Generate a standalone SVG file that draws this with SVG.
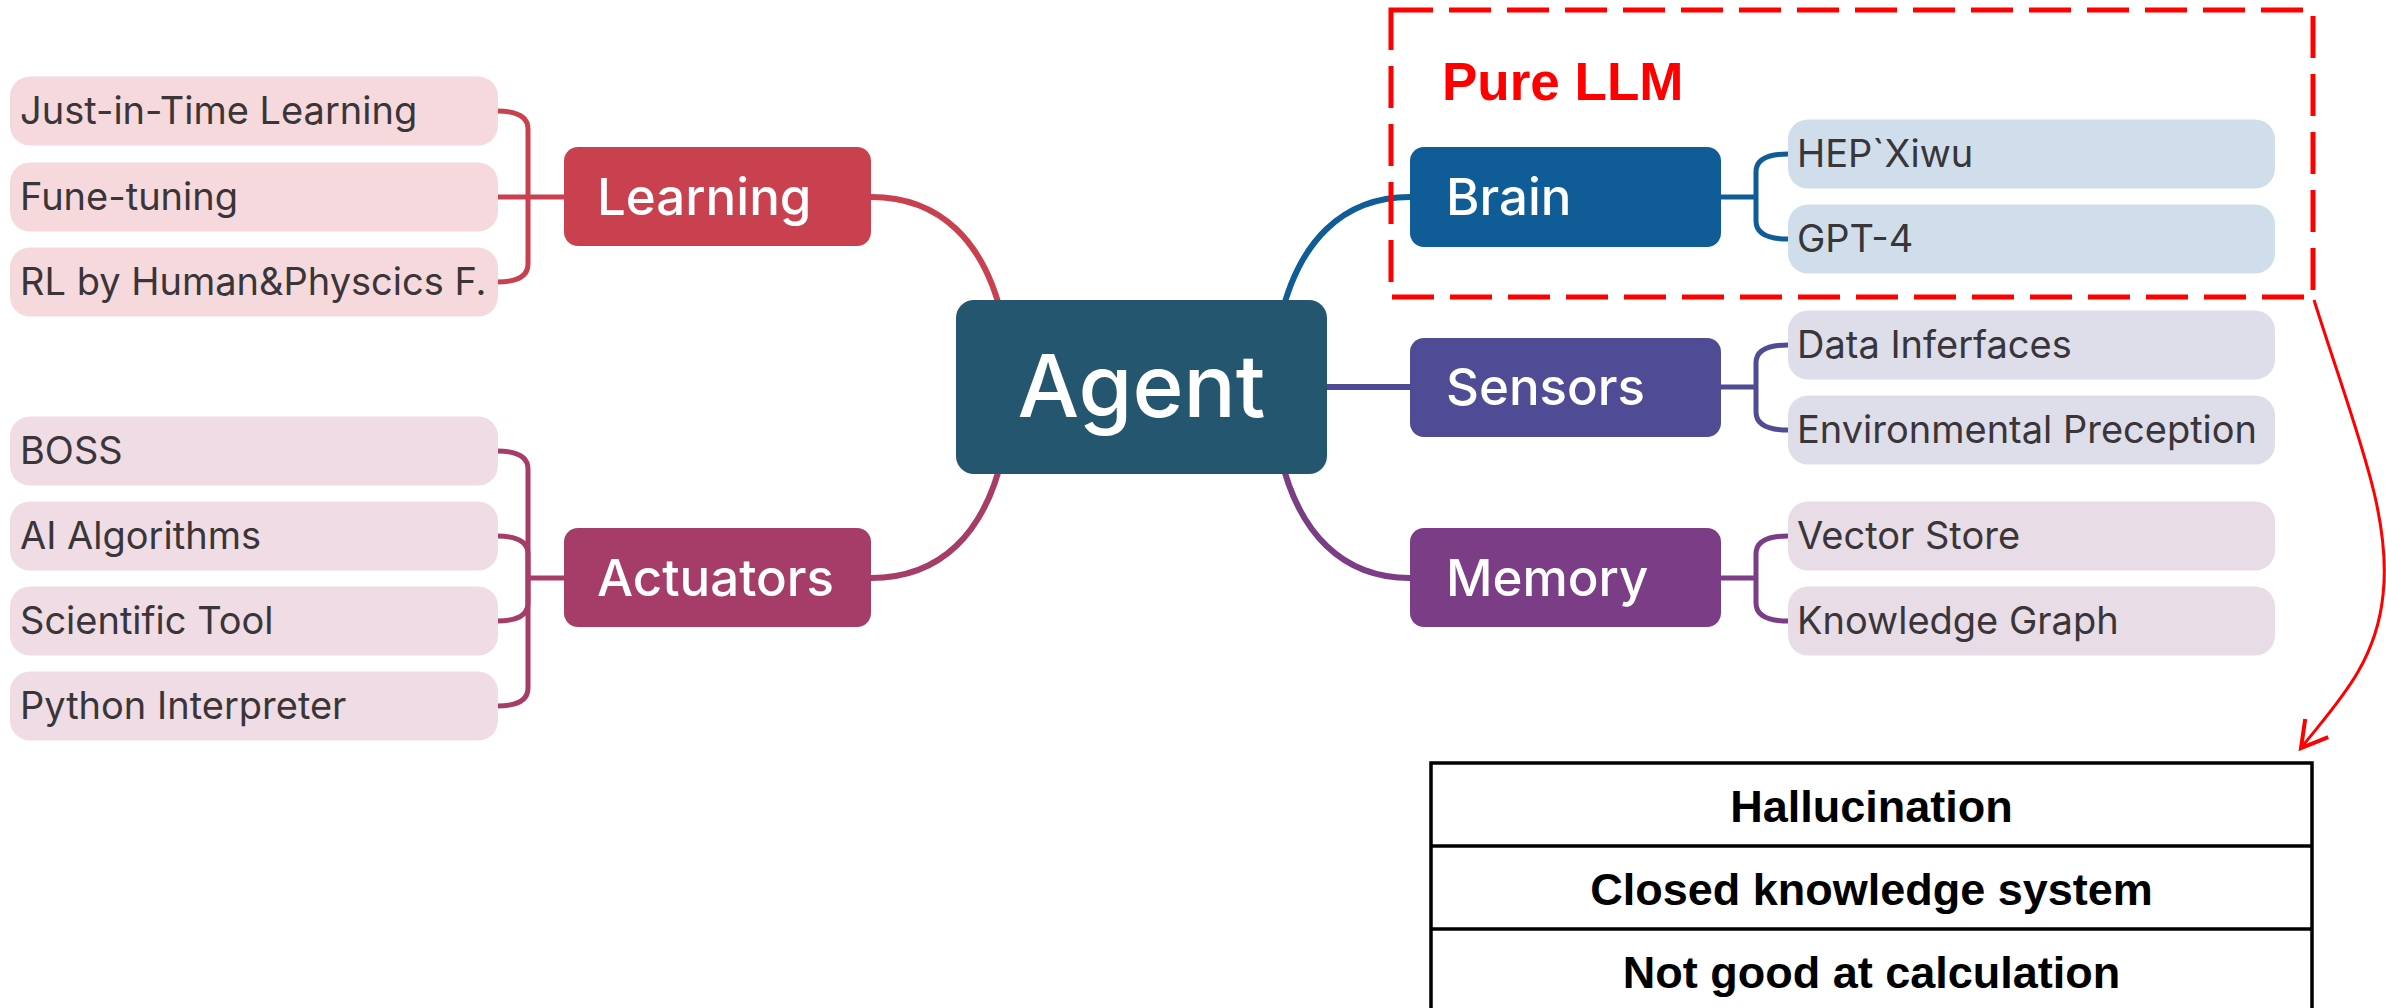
<svg xmlns="http://www.w3.org/2000/svg" width="2386" height="1008" viewBox="0 0 2386 1008">
<style>
.lt{font-family:Inter,"Noto Sans",sans-serif;font-size:38px;fill:#3a3538}
.bt{font-family:Inter,"Noto Sans",sans-serif;font-size:51px;font-weight:500;fill:#ffffff}
.conn{fill:none;stroke-width:6;stroke-linecap:round}
.brk{fill:none;stroke-width:5}
.lf-learn{fill:#F6D9DD}
.lf-act{fill:#EFDCE4}
.lf-brain{fill:#CFDEEA}
.lf-sens{fill:#DEDDEA}
.lf-mem{fill:#E8DCE7}
.tt{font-family:"Liberation Sans",Arial,sans-serif;font-weight:bold;font-size:45px;fill:#000;text-anchor:middle}
</style>
<defs>
<marker id="openArrow" markerUnits="userSpaceOnUse" markerWidth="40" markerHeight="40" refX="0" refY="0" viewBox="-25 -15 30 30" orient="auto" overflow="visible">
<path d="M-19,-11 L0,0 L-19,11" fill="none" stroke="#FF0000" stroke-width="3" stroke-linejoin="miter"/>
</marker>
</defs>
<rect width="2386" height="1008" fill="#ffffff"/>

<g id="connectors">
<path class="conn" stroke="#C9404F" d="M871,197 C940,197 985,241 1003,321"/>
<path class="conn" stroke="#A63D68" d="M871,578 C940,578 985,534 1003,454"/>
<path class="conn" stroke="#0F5C97" d="M1410,197 C1343,197 1298,241 1280,321"/>
<path class="conn" stroke="#4F4B94" d="M1320,387 L1410,387"/>
<path class="conn" stroke="#7B3D85" d="M1410,578 C1343,578 1298,534 1280,454"/>
<g stroke="#C9404F">
<path class="brk" d="M497,111 Q528,111 528,129 L528,197"/>
<path class="brk" d="M497,282 Q528,282 528,264 L528,197"/>
<path class="brk" d="M497,197 L564,197"/>
</g>
<g stroke="#A63D68">
<path class="brk" d="M497,451 Q528,451 528,469 L528,578"/>
<path class="brk" d="M497,536 Q528,536 528,554 L528,578"/>
<path class="brk" d="M497,621 Q528,621 528,603 L528,578"/>
<path class="brk" d="M497,706 Q528,706 528,688 L528,578"/>
<path class="brk" d="M528,578 L564,578"/>
</g>
<g stroke="#0F5C97">
<path class="brk" d="M1788,154 Q1756,154 1756,172 L1756,197"/>
<path class="brk" d="M1788,239 Q1756,239 1756,221 L1756,197"/>
<path class="brk" d="M1721,197 L1756,197"/>
</g>
<g stroke="#4F4B94">
<path class="brk" d="M1788,345 Q1756,345 1756,363 L1756,387"/>
<path class="brk" d="M1788,430 Q1756,430 1756,412 L1756,387"/>
<path class="brk" d="M1721,387 L1756,387"/>
</g>
<g stroke="#7B3D85">
<path class="brk" d="M1788,536 Q1756,536 1756,554 L1756,578"/>
<path class="brk" d="M1788,621 Q1756,621 1756,603 L1756,578"/>
<path class="brk" d="M1721,578 L1756,578"/>
</g>
<path d="M2314,300 C2355,430 2392,515 2383,595 C2376,665 2335,705 2301,748" fill="none" stroke="#FF0000" stroke-width="3" marker-end="url(#openArrow)"/>
</g>

<g id="agent">
<rect x="956" y="300" width="371" height="174" rx="18" fill="#24566F"/>
<text x="1141.5" y="417" font-family="Inter,'Noto Sans',sans-serif" font-size="87" font-weight="500" fill="#ffffff" text-anchor="middle">Agent</text>
</g>

<g id="learning">
<rect x="564" y="147" width="307" height="99" rx="14" fill="#C9404F"/>
<text class="bt" x="597" y="215">Learning</text>
</g>
<g id="actuators">
<rect x="564" y="528" width="307" height="99" rx="14" fill="#A63D68"/>
<text class="bt" x="597" y="596">Actuators</text>
</g>
<g id="brain">
<rect x="1410" y="147" width="311" height="100" rx="14" fill="#0F5C97"/>
<text class="bt" x="1446" y="215">Brain</text>
</g>
<g id="sensors">
<rect x="1410" y="338" width="311" height="99" rx="14" fill="#4F4B94"/>
<text class="bt" x="1446" y="405">Sensors</text>
</g>
<g id="memory">
<rect x="1410" y="528" width="311" height="99" rx="14" fill="#7B3D85"/>
<text class="bt" x="1446" y="596">Memory</text>
</g>

<g id="leaf-jit"><rect class="lf-learn" x="10" y="76.5" width="488" height="69" rx="20"/><text class="lt" x="20" y="124">Just-in-Time Learning</text></g>
<g id="leaf-fune"><rect class="lf-learn" x="10" y="162.5" width="488" height="69" rx="20"/><text class="lt" x="20" y="210">Fune-tuning</text></g>
<g id="leaf-rl"><rect class="lf-learn" x="10" y="247.5" width="488" height="69" rx="20"/><text class="lt" x="20" y="295">RL by Human&amp;Physcics F.</text></g>

<g id="leaf-boss"><rect class="lf-act" x="10" y="416.5" width="488" height="69" rx="20"/><text class="lt" x="20" y="464">BOSS</text></g>
<g id="leaf-ai"><rect class="lf-act" x="10" y="501.5" width="488" height="69" rx="20"/><text class="lt" x="20" y="549">AI Algorithms</text></g>
<g id="leaf-sci"><rect class="lf-act" x="10" y="586.5" width="488" height="69" rx="20"/><text class="lt" x="20" y="634">Scientific Tool</text></g>
<g id="leaf-py"><rect class="lf-act" x="10" y="671.5" width="488" height="69" rx="20"/><text class="lt" x="20" y="719">Python Interpreter</text></g>

<g id="leaf-xiwu"><rect class="lf-brain" x="1788" y="119.5" width="487" height="69" rx="20"/><text class="lt" x="1797" y="167">HEP`Xiwu</text></g>
<g id="leaf-gpt4"><rect class="lf-brain" x="1788" y="204.5" width="487" height="69" rx="20"/><text class="lt" x="1797" y="252">GPT-4</text></g>

<g id="leaf-data"><rect class="lf-sens" x="1788" y="310.5" width="487" height="69" rx="20"/><text class="lt" x="1797" y="358">Data Inferfaces</text></g>
<g id="leaf-env"><rect class="lf-sens" x="1788" y="395.5" width="487" height="69" rx="20"/><text class="lt" x="1797" y="443">Environmental Preception</text></g>

<g id="leaf-vec"><rect class="lf-mem" x="1788" y="501.5" width="487" height="69" rx="20"/><text class="lt" x="1797" y="549">Vector Store</text></g>
<g id="leaf-kg"><rect class="lf-mem" x="1788" y="586.5" width="487" height="69" rx="20"/><text class="lt" x="1797" y="634">Knowledge Graph</text></g>

<g id="pure-llm">
<rect x="1391" y="10" width="922" height="287" fill="none" stroke="#FF0000" stroke-width="5" stroke-dasharray="42 16"/>
<text x="1442" y="100" font-family="'Liberation Sans',Arial,sans-serif" font-weight="bold" font-size="53" fill="#FF0000">Pure LLM</text>
</g>

<g id="limits-table">
<rect x="1431" y="763" width="881" height="260" fill="#ffffff" stroke="#000000" stroke-width="3.5"/>
<line x1="1431" y1="846" x2="2312" y2="846" stroke="#000000" stroke-width="3.5"/>
<line x1="1431" y1="929" x2="2312" y2="929" stroke="#000000" stroke-width="3.5"/>
<text class="tt" x="1871.5" y="822">Hallucination</text>
<text class="tt" x="1871.5" y="905">Closed knowledge system</text>
<text class="tt" x="1871.5" y="988">Not good at calculation</text>
</g>
</svg>
